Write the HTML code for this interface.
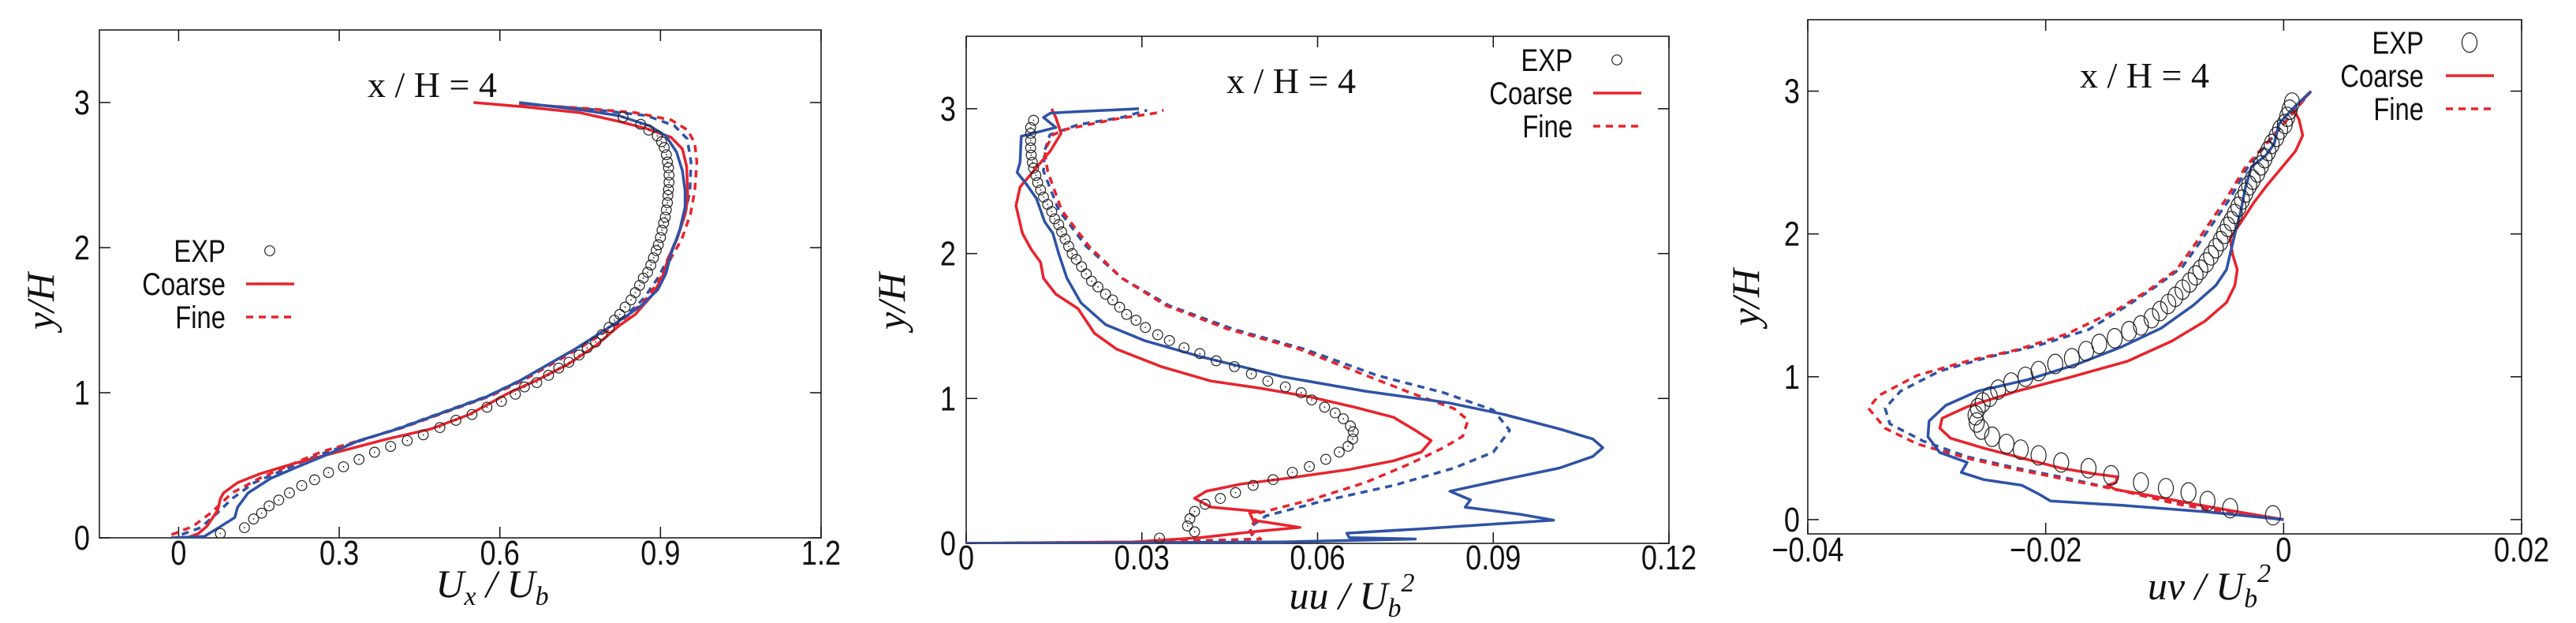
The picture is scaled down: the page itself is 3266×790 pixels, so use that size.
<!DOCTYPE html>
<html><head><meta charset="utf-8"><style>html,body{margin:0;padding:0;background:#fff}svg{display:block}</style></head>
<body>
<svg id="fig" width="3266" height="790" viewBox="0 0 3266 790" xmlns="http://www.w3.org/2000/svg"></svg>
<script>
// ---------- Panel 1 data (Ux/Ub) ----------
const p1ExpX=[0.078,0.123,0.14,0.155,0.169,0.187,0.207,0.23,0.254,0.28,0.308,0.337,0.366,0.396,0.427,0.457,0.488,0.518,0.548,0.576,0.603,0.629,0.646,0.669,0.691,0.71,0.729,0.748,0.763,0.779,0.791,0.804,0.814,0.824,0.834,0.845,0.853,0.861,0.868,0.876,0.882,0.887,0.892,0.896,0.9,0.903,0.906,0.909,0.911,0.913,0.914,0.915,0.916,0.916,0.915,0.913,0.911,0.907,0.902,0.894,0.878,0.863,0.83];
const p1ExpY=[0.03,0.07,0.13,0.17,0.22,0.26,0.31,0.36,0.40,0.45,0.49,0.54,0.59,0.63,0.67,0.71,0.76,0.81,0.85,0.90,0.94,0.99,1.04,1.07,1.12,1.17,1.21,1.26,1.31,1.35,1.40,1.45,1.50,1.54,1.59,1.64,1.69,1.74,1.79,1.83,1.88,1.93,1.98,2.02,2.07,2.12,2.17,2.21,2.26,2.31,2.36,2.40,2.45,2.50,2.55,2.59,2.64,2.69,2.73,2.77,2.81,2.85,2.90];
const p1CoarseRedX=[0.551,0.646,0.75,0.822,0.874,0.92,0.941,0.949,0.951,0.946,0.931,0.915,0.903,0.884,0.853,0.822,0.781,0.729,0.677,0.615,0.543,0.471,0.388,0.306,0.254,0.213,0.151,0.11,0.084,0.078,0.073,0.053,0.037,0.016,-0.014];
const p1CoarseRedY=[3.0,2.97,2.93,2.87,2.82,2.76,2.68,2.56,2.34,2.23,2.06,1.93,1.79,1.67,1.54,1.46,1.33,1.20,1.10,0.995,0.85,0.75,0.68,0.60,0.55,0.51,0.44,0.38,0.31,0.27,0.19,0.08,0.03,0.0,0.0];
const p1CoarseBlueX=[0.636,0.75,0.822,0.879,0.91,0.93,0.941,0.946,0.946,0.936,0.92,0.91,0.895,0.864,0.833,0.791,0.74,0.688,0.636,0.574,0.491,0.409,0.337,0.275,0.223,0.172,0.13,0.11,0.105,0.079,0.048,-0.014];
const p1CoarseBlueY=[3.0,2.95,2.91,2.84,2.77,2.66,2.53,2.39,2.28,2.12,1.96,1.82,1.71,1.60,1.52,1.42,1.30,1.19,1.08,0.97,0.86,0.75,0.67,0.57,0.49,0.41,0.31,0.21,0.14,0.08,0.01,0];
const p1FineRedX=[0.636,0.76,0.853,0.92,0.951,0.964,0.968,0.964,0.956,0.94,0.92,0.9,0.874,0.843,0.802,0.75,0.698,0.646,0.584,0.502,0.419,0.337,0.265,0.213,0.151,0.10,0.063,0.027,-0.014];
const p1FineRedY=[2.99,2.96,2.93,2.88,2.81,2.72,2.59,2.39,2.23,2.06,1.93,1.79,1.65,1.54,1.43,1.31,1.20,1.09,0.98,0.87,0.76,0.67,0.59,0.51,0.41,0.31,0.18,0.08,0.02];
const p1FineBlueX=[0.646,0.78,0.874,0.926,0.95,0.957,0.955,0.946,0.93,0.915,0.895,0.869,0.838,0.797,0.745,0.693,0.641,0.579,0.497,0.414,0.332,0.26,0.203,0.141,0.10,0.069,0.041,-0.004];
const p1FineBlueY=[2.99,2.95,2.91,2.84,2.75,2.59,2.39,2.23,2.06,1.93,1.79,1.65,1.54,1.43,1.31,1.20,1.09,0.98,0.87,0.76,0.66,0.57,0.48,0.38,0.27,0.16,0.07,0.01];
const p1XTicks=[0,0.3,0.6,0.9,1.2];
const p1XLabels=["0","0.3","0.6","0.9","1.2"];
// ---------- Panel 2 data (uu/Ub^2) ----------
const p2ExpX=[0.033,0.039,0.0378,0.0382,0.039,0.0408,0.0434,0.046,0.049,0.0524,0.0557,0.0586,0.0614,0.0637,0.0652,0.066,0.0661,0.0656,0.0644,0.063,0.0612,0.059,0.0572,0.0545,0.0515,0.0487,0.0458,0.0427,0.0399,0.0372,0.0347,0.0327,0.0306,0.029,0.0274,0.0262,0.025,0.0238,0.0225,0.0214,0.0205,0.0197,0.0188,0.0181,0.0175,0.0169,0.0163,0.0158,0.0151,0.0146,0.0139,0.0132,0.0127,0.0122,0.0119,0.0115,0.0113,0.0111,0.011,0.011,0.011,0.011,0.0115];
const p2ExpY=[0.036,0.08,0.12,0.17,0.22,0.27,0.31,0.35,0.40,0.44,0.49,0.53,0.58,0.63,0.67,0.72,0.77,0.81,0.86,0.90,0.94,0.99,1.04,1.08,1.12,1.17,1.22,1.26,1.31,1.35,1.40,1.44,1.49,1.54,1.58,1.63,1.68,1.72,1.77,1.81,1.86,1.91,1.96,2.00,2.05,2.10,2.15,2.20,2.24,2.29,2.34,2.39,2.44,2.49,2.54,2.59,2.63,2.68,2.73,2.78,2.83,2.87,2.92];
const p2CoarseRedX=[0,0.0285,0.04,0.049,0.057,0.049,0.0484,0.050,0.0418,0.039,0.041,0.047,0.055,0.0654,0.073,0.0777,0.0794,0.0767,0.073,0.0663,0.0588,0.0503,0.0418,0.0333,0.0257,0.0219,0.0191,0.0153,0.0132,0.0127,0.0111,0.0096,0.0085,0.0092,0.0115,0.0144,0.0162,0.0153,0.0146];
const p2CoarseRedY=[0,0.01,0.04,0.08,0.11,0.16,0.21,0.22,0.25,0.31,0.36,0.41,0.45,0.51,0.57,0.63,0.71,0.78,0.87,0.94,1.01,1.07,1.12,1.22,1.34,1.45,1.62,1.72,1.83,1.94,2.03,2.14,2.33,2.46,2.57,2.71,2.83,2.94,3.0];
const p2CoarseBlueX=[0,0.054,0.0767,0.0654,0.065,0.0777,0.1003,0.0947,0.0852,0.0861,0.0826,0.0918,0.1013,0.107,0.1087,0.107,0.1013,0.0918,0.0824,0.0682,0.054,0.0399,0.0304,0.0238,0.0196,0.0172,0.0158,0.0148,0.0134,0.012,0.0101,0.0087,0.0092,0.0094,0.0153,0.0132,0.0144,0.0191,0.0295];
const p2CoarseBlueY=[0,0.01,0.03,0.04,0.07,0.10,0.16,0.20,0.25,0.30,0.36,0.44,0.52,0.60,0.66,0.72,0.79,0.89,0.97,1.05,1.15,1.29,1.40,1.51,1.66,1.83,2.00,2.14,2.22,2.38,2.49,2.56,2.63,2.81,2.87,2.94,2.97,2.98,3.0];
const p2FineRedX=[0,0.0304,0.0503,0.0484,0.049,0.050,0.0588,0.0682,0.0758,0.0815,0.0848,0.0857,0.0833,0.0758,0.0682,0.0569,0.0446,0.0342,0.0266,0.021,0.0163,0.0139,0.0134,0.0148,0.0172,0.0257,0.0323,0.0337];
const p2FineRedY=[0,0.01,0.03,0.08,0.14,0.21,0.30,0.42,0.55,0.66,0.74,0.85,0.93,1.04,1.16,1.34,1.48,1.64,1.83,2.05,2.30,2.57,2.71,2.82,2.86,2.93,2.97,2.99];
const p2FineBlueX=[0,0.04,0.049,0.0484,0.0512,0.0607,0.073,0.0833,0.09,0.0928,0.09,0.0815,0.0701,0.0578,0.0455,0.0347,0.0266,0.0205,0.0158,0.0132,0.0134,0.0143,0.0191,0.0266,0.0309];
const p2FineBlueY=[0,0.01,0.03,0.11,0.19,0.29,0.40,0.52,0.63,0.78,0.92,1.04,1.16,1.34,1.48,1.64,1.83,2.05,2.30,2.57,2.71,2.82,2.89,2.94,2.99];
const p2XTicks=[0,0.03,0.06,0.09,0.12];
const p2XLabels=["0","0.03","0.06","0.09","0.12"];
// ---------- Panel 3 data (uv/Ub^2) ----------
const p3ExpX=[-0.0009,-0.0045,-0.0064,-0.008,-0.0099,-0.012,-0.0145,-0.0164,-0.0187,-0.0206,-0.0221,-0.0233,-0.0245,-0.0254,-0.0258,-0.0259,-0.0257,-0.0253,-0.0247,-0.024,-0.0229,-0.0217,-0.0206,-0.0192,-0.0178,-0.0166,-0.0155,-0.0142,-0.013,-0.012,-0.0111,-0.0104,-0.0097,-0.0091,-0.0085,-0.0079,-0.0074,-0.0070,-0.0065,-0.0061,-0.0057,-0.0053,-0.005,-0.0047,-0.0044,-0.0041,-0.0038,-0.0035,-0.0032,-0.0029,-0.0026,-0.0022,-0.0019,-0.0016,-0.0013,-0.001,-0.0006,-0.0003,0.0001,0.0003,0.0005,0.0007];
const p3ExpY=[0.03,0.08,0.13,0.19,0.22,0.26,0.31,0.36,0.40,0.45,0.49,0.53,0.58,0.63,0.68,0.73,0.78,0.82,0.86,0.91,0.96,1.0,1.04,1.09,1.13,1.18,1.23,1.27,1.32,1.36,1.41,1.46,1.51,1.56,1.61,1.66,1.71,1.75,1.80,1.85,1.90,1.95,2.0,2.05,2.09,2.14,2.19,2.24,2.29,2.34,2.38,2.43,2.48,2.53,2.58,2.63,2.68,2.73,2.77,2.82,2.87,2.92];
const p3CoarseRedX=[0,-0.0039,-0.0076,-0.0113,-0.0141,-0.0148,-0.0141,-0.014,-0.0159,-0.0187,-0.0215,-0.0252,-0.028,-0.0289,-0.0287,-0.0266,-0.0224,-0.0178,-0.0131,-0.0094,-0.0066,-0.0048,-0.0041,-0.0039,-0.0043,-0.0045,-0.0036,-0.0025,-0.0015,-0.0001,0.001,0.0016,0.0013,0.0008,0.002,0.0023];
const p3CoarseRedY=[0,0.055,0.11,0.17,0.21,0.24,0.26,0.30,0.32,0.36,0.42,0.50,0.57,0.64,0.71,0.79,0.90,1.0,1.11,1.25,1.39,1.52,1.64,1.75,1.86,1.97,2.08,2.22,2.33,2.47,2.58,2.69,2.80,2.88,2.97,3.0];
const p3CoarseBlueX=[0,-0.0066,-0.0136,-0.0196,-0.0206,-0.022,-0.0252,-0.0271,-0.0266,-0.0289,-0.0299,-0.0298,-0.0284,-0.0257,-0.0215,-0.0173,-0.0136,-0.0103,-0.0076,-0.0057,-0.0048,-0.0045,-0.0041,-0.0036,-0.0032,-0.0027,-0.0015,-0.0008,-0.0004,0.0008,0.0023];
const p3CoarseBlueY=[0,0.055,0.10,0.13,0.18,0.24,0.28,0.33,0.40,0.47,0.58,0.69,0.80,0.90,0.98,1.09,1.21,1.34,1.50,1.64,1.75,1.86,2.0,2.16,2.33,2.47,2.55,2.63,2.77,2.88,3.0];
const p3FineRedX=[0,-0.0043,-0.009,-0.014,-0.0182,-0.0224,-0.0266,-0.0308,-0.0335,-0.0349,-0.034,-0.0308,-0.0266,-0.0224,-0.0182,-0.014,-0.0113,-0.009,-0.0076,-0.0062,-0.0048,-0.0032,-0.0015,0.0003,0.0023];
const p3FineRedY=[0,0.04,0.11,0.21,0.28,0.35,0.43,0.53,0.64,0.78,0.87,1.01,1.11,1.19,1.30,1.47,1.61,1.75,1.91,2.08,2.25,2.47,2.63,2.80,3.0];
const p3FineBlueX=[0,-0.0043,-0.009,-0.014,-0.0182,-0.0224,-0.0266,-0.0303,-0.0331,-0.0335,-0.0322,-0.0289,-0.0247,-0.0206,-0.0164,-0.0131,-0.0106,-0.0085,-0.0073,-0.0059,-0.0045,-0.003,-0.0014,0.0003,0.0023];
const p3FineBlueY=[0,0.05,0.12,0.21,0.29,0.36,0.44,0.55,0.67,0.78,0.90,1.04,1.14,1.22,1.33,1.50,1.64,1.77,1.91,2.08,2.25,2.47,2.63,2.80,3.0];
const p3XTicks=[-0.04,-0.02,0,0.02];
const p3XLabels=["\u22120.04","\u22120.02","0","0.02"];
const yTicks=[0,1,2,3];
const yLabels=["0","1","2","3"];

const NS="http://www.w3.org/2000/svg";
const svg=document.getElementById('fig');
const RED="#e8232c", BLUE="#2f52a6";
function mk(tag,attrs,parent){const e=document.createElementNS(NS,tag);for(const k in attrs)e.setAttribute(k,attrs[k]);(parent||svg).appendChild(e);return e;}
function ntext(g,x,y,str,anchor,size,sx){
  const t=mk('text',{transform:`translate(${x},${y}) scale(${sx},1)`,'text-anchor':anchor,'font-family':'"Liberation Sans",sans-serif','font-size':size,fill:'#111'},g);
  t.textContent=str;return t;
}

function panel(cfg){
  const g=mk('g',{});
  
  
  const sx=v=>cfg.L+(v-cfg.x0)/(cfg.x1-cfg.x0)*(cfg.R-cfg.L);
  const sy=v=>cfg.B-(v-cfg.y0)/(cfg.y1-cfg.y0)*(cfg.B-cfg.T);
  const cid='clip-'+cfg.name;
  const cp=mk('clipPath',{id:cid},g);
  mk('rect',{x:cfg.L,y:cfg.T,width:cfg.R-cfg.L,height:cfg.B-cfg.T},cp);
  const fr=mk('rect',{x:cfg.L,y:cfg.T,width:cfg.R-cfg.L,height:cfg.B-cfg.T,fill:'none',stroke:'#111','stroke-width':1.5},g);
  
  
  cfg.xt.forEach((v,i)=>{
    const x=sx(v);
    mk('line',{x1:x,x2:x,y1:cfg.B,y2:cfg.B-14,stroke:'#111','stroke-width':1.5},g);
    mk('line',{x1:x,x2:x,y1:cfg.T,y2:cfg.T+14,stroke:'#111','stroke-width':1.5},g);
    const t=ntext(g,x,cfg.xlb,cfg.xl[i],'middle',44,0.82);
    
    
  });
  yTicks.forEach((v,i)=>{
    const y=sy(v);
    mk('line',{x1:cfg.L,x2:cfg.L+14,y1:y,y2:y,stroke:'#111','stroke-width':1.5},g);
    mk('line',{x1:cfg.R,x2:cfg.R-14,y1:y,y2:y,stroke:'#111','stroke-width':1.5},g);
    const t=ntext(g,cfg.ylr,y+15,yLabels[i],'end',44,0.82);
    
    
  });
  const cg=mk('g',{'clip-path':`url(#${cid})`},g);
  const line=(xs,ys,color,dash,name)=>{
    const d=xs.map((v,i)=>(i?'L':'M')+sx(v).toFixed(1)+','+sy(ys[i]).toFixed(1)).join('');
    const p=mk('path',{d:d,fill:'none',stroke:color,'stroke-width':3.5,'stroke-linejoin':'round','stroke-dasharray':dash?'9 7':'none'},cg);
    
    
  };
  line(cfg.fb[0],cfg.fb[1],BLUE,true,'fine-blue-dashed-line');
  line(cfg.fr[0],cfg.fr[1],RED,true,'fine-red-dashed-line');
  line(cfg.cr[0],cfg.cr[1],RED,false,'coarse-red-line');
  line(cfg.cb[0],cfg.cb[1],BLUE,false,'coarse-blue-line');
  cfg.ex[0].forEach((v,i)=>{
    const c=mk('ellipse',{cx:sx(v),cy:sy(cfg.ex[1][i]),rx:cfg.r,ry:cfg.r*cfg.ry,fill:'none',stroke:'#222','stroke-width':1.2},cg);
    
    
    if(cfg.dot){mk('circle',{cx:sx(v),cy:sy(cfg.ex[1][i]),r:0.9,fill:'#222'},cg);}
  });
  const tt=mk('text',{x:cfg.tx,y:cfg.ty,'font-family':'"Liberation Serif",serif','font-size':46,fill:'#111'},g);
  tt.textContent='x / H = 4';
  
  
  const lg=mk('g',{},g);
  
  
  const [lr,lc,ly]=cfg.leg;
  const e1=ntext(lg,lr,ly,'EXP','end',40,0.82);
  
  mk('ellipse',{cx:lc+30,cy:ly-14,rx:cfg.r,ry:cfg.r*cfg.ry,fill:'none',stroke:'#222','stroke-width':1.2},lg);
  const e2=ntext(lg,lr,ly+42,'Coarse','end',40,0.82);
  
  mk('line',{x1:lc,x2:lc+61,y1:ly+28,y2:ly+28,stroke:RED,'stroke-width':3.5},lg);
  const e3=ntext(lg,lr,ly+84,'Fine','end',40,0.82);
  
  mk('line',{x1:lc,x2:lc+58,y1:ly+70,y2:ly+70,stroke:RED,'stroke-width':3.5,'stroke-dasharray':'9 7'},lg);
  const yl=mk('text',{transform:`translate(${cfg.ylx},${cfg.yly}) rotate(-90)`,'text-anchor':'middle','font-family':'"Liberation Serif",serif','font-style':'italic','font-size':50,fill:'#111'},g);
  yl.textContent='y/H';
  
  const xl=mk('text',{x:cfg.xlx,y:cfg.xly,'text-anchor':'middle','font-family':'"Liberation Serif",serif','font-style':'italic','font-size':50,fill:'#111'},g);
  xl.innerHTML=cfg.xlabel;
  
}

panel({name:'panel-ux',L:126,R:1041,T:38,B:682,x0:-0.148,x1:1.2,y0:0,y1:3.5,xt:p1XTicks,xl:p1XLabels,xlb:716,ylr:114,
  ex:[p1ExpX,p1ExpY],cr:[p1CoarseRedX,p1CoarseRedY],cb:[p1CoarseBlueX,p1CoarseBlueY],fr:[p1FineRedX,p1FineRedY],fb:[p1FineBlueX,p1FineBlueY],
  r:6.3,ry:1,dot:true,tx:466,ty:123,leg:[286,312,332],ylx:68,yly:382,xlx:624,xly:757,
  xlabel:'U<tspan font-size="34" dy="10">x</tspan><tspan dy="-10"> / U</tspan><tspan font-size="34" dy="10">b</tspan>'});
panel({name:'panel-uu',L:1225,R:2116,T:46,B:689,x0:0,x1:0.12,y0:0,y1:3.5,xt:p2XTicks,xl:p2XLabels,xlb:722,ylr:1212,
  ex:[p2ExpX,p2ExpY],cr:[p2CoarseRedX,p2CoarseRedY],cb:[p2CoarseBlueX,p2CoarseBlueY],fr:[p2FineRedX,p2FineRedY],fb:[p2FineBlueX,p2FineBlueY],
  r:6.3,ry:1,dot:true,tx:1555,ty:118,leg:[1994,2020,90],ylx:1147,yly:382,xlx:1714,xly:772,
  xlabel:'uu / U<tspan font-size="34" dy="10">b</tspan><tspan font-size="34" dy="-32">2</tspan>'});
panel({name:'panel-uv',L:2292,R:3197,T:25,B:677,x0:-0.04,x1:0.02,y0:-0.1,y1:3.5,xt:p3XTicks,xl:p3XLabels,xlb:712,ylr:2282,
  ex:[p3ExpX,p3ExpY],cr:[p3CoarseRedX,p3CoarseRedY],cb:[p3CoarseBlueX,p3CoarseBlueY],fr:[p3FineRedX,p3FineRedY],fb:[p3FineBlueX,p3FineBlueY],
  r:9.5,ry:1.3,dot:false,tx:2637,ty:111,leg:[3073,3101,68],ylx:2230,yly:377,xlx:2801,xly:760,
  xlabel:'uv / U<tspan font-size="34" dy="10">b</tspan><tspan font-size="34" dy="-32">2</tspan>'});
</script>
</body></html>
